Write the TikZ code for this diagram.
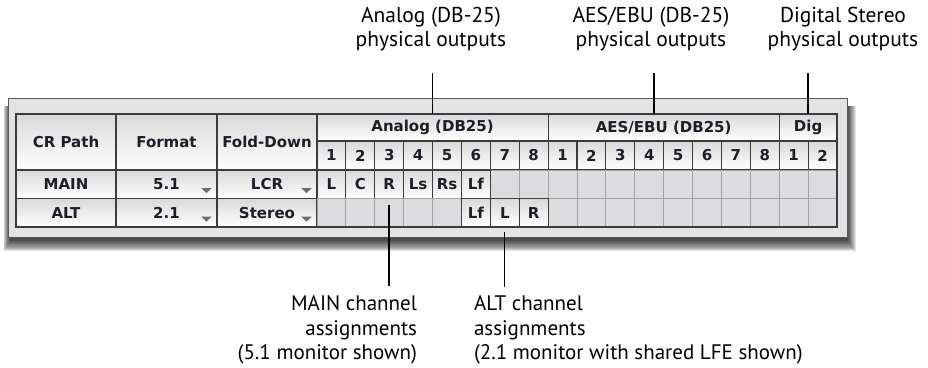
\documentclass[tikz,border=0pt]{standalone}
\usepackage{fontspec}
\setmainfont{PT Sans}
\newfontfamily\uifont{DejaVu Sans}

\definecolor{panelgray}{HTML}{E3E3E5}
\definecolor{cellgray}{HTML}{DCDBDE}
\definecolor{gridgray}{HTML}{A2A2A5}
\definecolor{edgedark}{HTML}{3C3C3C}
\definecolor{textdark}{HTML}{1E1E28}
\definecolor{arrowgray}{HTML}{6E6E72}

\def\cw{28.889}

\begin{document}
\begin{tikzpicture}[
	x=1pt, y=-1pt,
	cellbase/.style={anchor=north west, inner sep=0pt, outer sep=0pt, font=\uifont\bfseries\fontsize{15}{16}\selectfont, text=textdark},
	gloss/.style={cellbase, top color=black!15, middle color=white, bottom color=white, draw=edgedark, line width=1.1pt},
	setcell/.style={gloss, minimum width=\cw pt, minimum height=28.5pt},
	emptycell/.style={cellbase, fill=cellgray, draw=gridgray, line width=0.9pt, minimum width=\cw pt, minimum height=28.5pt},
	dropdown/.style={fill=arrowgray},
	callout/.style={draw=black, line width=1.8pt},
	note/.style={font=\fontsize{21.5}{24}\selectfont, inner sep=0pt, outer sep=0pt}
	]
	\useasboundingbox (0,0) rectangle (928,367);

	% --- PANNELLO ---
	\foreach \k in {1,...,12}
		\fill[black, opacity=0.11] (12-0.7*\k, 106) rectangle (845+0.9*\k, 237+1.2*\k);
	\draw[fill=panelgray, draw=gray!70!black, line width=0.8pt] (8,98) rectangle (847,237);

	% --- INTESTAZIONI ---
	\node[gloss, minimum width=100pt, minimum height=56pt] (crHead) at (16,114) {CR Path};
	\node[gloss, minimum width=101pt, minimum height=56pt] (fmtHead) at (116,114) {Format};
	\node[gloss, minimum width=100pt, minimum height=56pt] (foldHead) at (217,114) {Fold-Down};

	\node[gloss, minimum width=8*\cw pt, minimum height=27pt] (hAnalog) at (317,114) {Analog (DB25)};
	\node[gloss, minimum width=8*\cw pt, minimum height=27pt] (hAES) at ({317+8*\cw},114) {AES/EBU (DB25)};
	\node[gloss, minimum width=2*\cw pt, minimum height=27pt] (hDig) at ({317+16*\cw},114) {Dig};

	% numeri dei canali
	\foreach \i in {1,...,18} {
		\pgfmathtruncatemacro\n{mod(\i-1,8)+1}
		\node[gloss, minimum width=\cw pt, minimum height=29pt] (num\i) at ({317+(\i-1)*\cw},141) {\n};
	}

	% --- RIGHE MAIN / ALT ---
	\node[gloss, minimum width=100pt, minimum height=28.5pt] (mainPath) at (16,170) {MAIN};
	\node[gloss, minimum width=101pt, minimum height=28.5pt] (mainFmt) at (116,170) {5.1};
	\node[gloss, minimum width=100pt, minimum height=28.5pt] (mainFold) at (217,170) {LCR};
	\node[gloss, minimum width=100pt, minimum height=28.5pt] (altPath) at (16,198.5) {ALT};
	\node[gloss, minimum width=101pt, minimum height=28.5pt] (altFmt) at (116,198.5) {2.1};
	\node[gloss, minimum width=100pt, minimum height=28.5pt] (altFold) at (217,198.5) {Stereo};

	\foreach \i in {7,...,18}
		\node[emptycell] (m\i) at ({317+(\i-1)*\cw},170) {};
	\foreach \lbl [count=\i] in {L,C,R,Ls,Rs,Lf}
		\node[setcell] (m\i) at ({317+(\i-1)*\cw},170) {\lbl};

	\foreach \i in {1,...,5,9,10,...,18}
		\node[emptycell] (a\i) at ({317+(\i-1)*\cw},198.5) {};
	\foreach \lbl [count=\i from 6] in {Lf,L,R}
		\node[setcell] (a\i) at ({317+(\i-1)*\cw},198.5) {\lbl};

	\draw[edgedark, line width=1.6pt] (crHead.north west) rectangle (a18.south east);

	% menu a tendina
	\foreach \c in {mainFmt, mainFold, altFmt, altFold}
		\fill[dropdown] ([xshift=-16pt, yshift=10.5pt]\c.south east) -- ++(11,0) -- ++(-5.5,5) -- cycle;

	% --- ANNOTAZIONI ---
	\node[note, anchor=south, align=center] (lblAnalog) at (431,51) {Analog (DB-25)\\physical outputs};
	\node[note, anchor=south, align=center] (lblAES) at (651,51) {AES/EBU (DB-25)\\physical outputs};
	\node[note, anchor=south, align=center] (lblDig) at (843,51) {Digital Stereo\\physical outputs};

	\draw[callout, shorten <=22pt] (lblAnalog.south -| hAnalog.north) -- (hAnalog.north);
	\draw[callout, shorten <=22pt] ([xshift=3pt]lblAES.south) -- ([xshift=3pt]lblAES.south |- hAES.north);
	\draw[callout, shorten <=22pt] (lblDig.south -| hDig.north) -- (hDig.north);

	\node[note, anchor=north east, align=right, font=\fontsize{21}{24.5}\selectfont] (lblMain) at (417,296) {MAIN channel\\assignments\\(5.1 monitor shown)};
	\node[note, anchor=north west, align=left, font=\fontsize{21}{24.5}\selectfont] (lblAlt) at (474,296) {ALT channel\\assignments\\(2.1 monitor with shared LFE shown)};

	\draw[callout, shorten <=6pt, shorten >=10pt] (a3.north) -- (lblMain.north -| a3.north);
	\draw[callout, line width=1.2pt, shorten <=5pt, shorten >=9pt] (a7.south) -- (lblAlt.north -| a7.south);

\end{tikzpicture}
\end{document}
